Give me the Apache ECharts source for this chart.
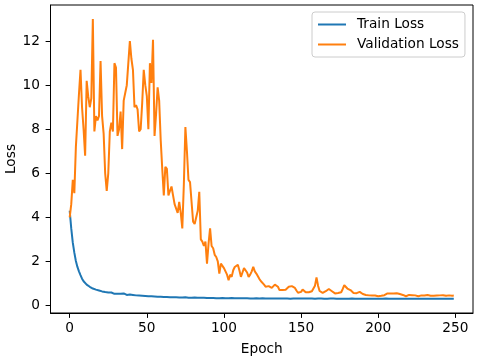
<!DOCTYPE html>
<html>
<head>
<meta charset="utf-8">
<script src="https://cdn.jsdelivr.net/npm/echarts@6.0.0/dist/echarts.min.js"></script>
<style>
  html, body { margin: 0; padding: 0; background: #fff; }
  #chart { width: 483px; height: 357px; }
</style>
</head>
<body>
<div id="chart"></div>
<script>
// loss per epoch
const trainLoss = [
  4.30, 3.50, 2.85, 2.40, 2.02, 1.75, 1.55, 1.38, 1.22, 1.10,
  1.02, 0.95, 0.90, 0.85, 0.80, 0.77, 0.74, 0.72, 0.70, 0.68,
  0.66, 0.64, 0.66, 0.61, 0.62, 0.59, 0.57, 0.59, 0.55, 0.53,
  0.57, 0.53, 0.51, 0.53, 0.50, 0.55, 0.50, 0.48, 0.47, 0.50,
  0.46, 0.48, 0.45, 0.46, 0.44, 0.45, 0.43, 0.44, 0.42, 0.43,
  0.42, 0.42, 0.41, 0.42, 0.40, 0.41, 0.40, 0.40, 0.39, 0.40,
  0.39, 0.39, 0.38, 0.39, 0.38, 0.38, 0.37, 0.38, 0.37, 0.37,
  0.37, 0.36, 0.37, 0.36, 0.36, 0.37, 0.36, 0.35, 0.36, 0.35,
  0.35, 0.36, 0.35, 0.35, 0.34, 0.35, 0.34, 0.35, 0.34, 0.34,
  0.34, 0.34, 0.33, 0.34, 0.34, 0.33, 0.34, 0.33, 0.33, 0.34,
  0.34, 0.33, 0.34, 0.33, 0.33, 0.34, 0.33, 0.33, 0.33, 0.33,
  0.34, 0.33, 0.33, 0.33, 0.32, 0.33, 0.33, 0.32, 0.33, 0.32,
  0.32, 0.33, 0.32, 0.32, 0.32, 0.33, 0.32, 0.32, 0.32, 0.32,
  0.32, 0.32, 0.33, 0.32, 0.32, 0.32, 0.32, 0.32, 0.32, 0.32,
  0.32, 0.32, 0.32, 0.31, 0.32, 0.32, 0.32, 0.32, 0.31, 0.32,
  0.32, 0.32, 0.33, 0.32, 0.32, 0.32, 0.31, 0.32, 0.32, 0.31,
  0.32, 0.32, 0.31, 0.32, 0.32, 0.31, 0.32, 0.31, 0.31, 0.32,
  0.31, 0.32, 0.31, 0.31, 0.32, 0.31, 0.31, 0.31, 0.32, 0.31,
  0.31, 0.31, 0.31, 0.32, 0.31, 0.31, 0.31, 0.31, 0.31, 0.31,
  0.31, 0.31, 0.32, 0.31, 0.31, 0.31, 0.31, 0.31, 0.31, 0.31,
  0.31, 0.31, 0.31, 0.31, 0.31, 0.32, 0.31, 0.31, 0.31, 0.31,
  0.31, 0.31, 0.31, 0.31, 0.31, 0.31, 0.31, 0.31, 0.31, 0.31,
  0.31, 0.31, 0.31, 0.31, 0.31, 0.31, 0.31, 0.31, 0.31, 0.31,
  0.31, 0.31, 0.31, 0.31, 0.31, 0.31, 0.31, 0.31, 0.31, 0.31,
  0.31, 0.31, 0.31, 0.31, 0.31, 0.31, 0.31, 0.31, 0.31, 0.31
];
const valLoss = [
  4.00, 4.60, 5.70, 5.10, 7.20, 8.40, 9.60, 10.70, 9.00, 8.00,
  6.80, 10.20, 9.50, 9.00, 9.40, 13.00, 7.90, 8.60, 8.40, 8.60,
  11.10, 8.60, 7.80, 6.00, 5.20, 6.00, 7.90, 8.30, 7.90, 11.00,
  10.80, 7.70, 8.00, 8.80, 7.10, 9.30, 9.30, 10.00, 11.00, 12.00,
  11.20, 10.70, 9.00, 9.10, 8.90, 7.90, 8.00, 9.20, 10.70, 10.00,
  9.50, 8.00, 11.00, 10.10, 12.06, 7.70, 8.70, 9.90, 9.30, 7.50,
  6.20, 5.00, 6.30, 6.20, 5.00, 5.20, 5.40, 5.00, 4.60, 4.60,
  4.20, 4.70, 4.20, 3.50, 5.50, 8.10, 7.00, 5.70, 5.60, 5.55,
  3.80, 3.70, 3.65, 4.30, 5.16, 3.00, 2.90, 2.70, 2.90, 1.90,
  2.80, 3.50, 2.70, 2.60, 2.30, 2.20, 2.00, 1.45, 1.90, 1.80,
  1.70, 1.65, 1.40, 1.15, 1.40, 1.30, 1.60, 1.75, 1.80, 1.85,
  1.60, 1.30, 1.50, 1.70, 1.68, 1.50, 1.30, 1.40, 1.55, 1.75,
  1.55, 1.45, 1.36, 1.20, 1.10, 1.07, 0.95, 0.85, 0.90, 0.88,
  0.85, 0.80, 0.85, 0.95, 1.03, 0.85, 0.70, 0.62, 0.70, 0.75,
  0.72, 0.78, 0.85, 0.80, 0.88, 0.92, 0.80, 0.68, 0.58, 0.55,
  0.62, 0.73, 0.68, 0.60, 0.58, 0.60, 0.60, 0.65, 0.70, 0.90,
  1.27, 0.90, 0.66, 0.60, 0.57, 0.60, 0.65, 0.70, 0.75, 0.77,
  0.65, 0.57, 0.55, 0.56, 0.57, 0.57, 0.60, 0.75, 0.92, 0.85,
  0.77, 0.75, 0.70, 0.62, 0.57, 0.55, 0.56, 0.60, 0.62, 0.58,
  0.52, 0.50, 0.48, 0.48, 0.46, 0.47, 0.45, 0.44, 0.45, 0.43,
  0.42, 0.42, 0.44, 0.46, 0.47, 0.50, 0.55, 0.57, 0.55, 0.54,
  0.55, 0.54, 0.56, 0.55, 0.52, 0.50, 0.48, 0.45, 0.42, 0.46,
  0.48, 0.45, 0.47, 0.50, 0.46, 0.55, 0.42, 0.44, 0.46, 0.47,
  0.45, 0.46, 0.48, 0.47, 0.44, 0.43, 0.44, 0.46, 0.45, 0.44,
  0.46, 0.45, 0.47, 0.46, 0.44, 0.45, 0.46, 0.45, 0.44, 0.45
];
const xTicks = [0, 50, 100, 150, 200, 250];
const yTicks = [0, 2, 4, 6, 8, 10, 12];

const font = "DejaVu Sans";
const fontSize = 13.7;
const chart = echarts.init(document.getElementById("chart"));

const toPairs = (arr) => arr.map((v, i) => [i, v]);

chart.setOption({
  animation: false,
  color: ["#1f77b4", "#ff7f0e"],
  grid: {
    left: 50.5,
    right: 10,
    top: 5,
    bottom: 44,
    outerBoundsMode: "none",
    containLabel: false,
    show: true,
    borderColor: "#000",
    borderWidth: 1,
    backgroundColor: "transparent",
  },
  legend: {
    orient: "vertical",
    left: 312,
    top: 12,
    icon: "rect",
    itemWidth: 28,
    itemHeight: 2,
    itemGap: 5,
    padding: [5, 6, 5, 6],
    borderColor: "#cccccc",
    borderWidth: 1,
    borderRadius: 3,
    backgroundColor: "rgba(255,255,255,0.8)",
    textStyle: {
      fontFamily: font,
      fontSize: fontSize,
      color: "#000",
      lineHeight: 15,
      padding: [0, 0, 0, 6],
    },
    data: ["Train Loss", "Validation Loss"],
  },
  xAxis: {
    type: "value",
    min: -12.45,
    max: 261.45,
    name: "Epoch",
    nameLocation: "middle",
    nameGap: 29,
    nameMoveOverlap: false,
    nameTextStyle: { fontFamily: font, fontSize: fontSize, color: "#000" },
    axisLine: { show: true, onZero: false, lineStyle: { color: "#000", width: 1 } },
    axisTick: { show: true, length: 4.9, customValues: xTicks, lineStyle: { color: "#000" } },
    axisLabel: { customValues: xTicks, margin: 8, fontFamily: font, fontSize: fontSize, color: "#000" },
    splitLine: { show: false },
  },
  yAxis: {
    type: "value",
    min: -0.34,
    max: 13.64,
    name: "Loss",
    nameLocation: "middle",
    nameGap: 32,
    nameMoveOverlap: false,
    nameTextStyle: { fontFamily: font, fontSize: fontSize, color: "#000" },
    axisLine: { show: true, onZero: false, lineStyle: { color: "#000", width: 1 } },
    axisTick: { show: true, length: 4.9, customValues: yTicks, lineStyle: { color: "#000" } },
    axisLabel: { customValues: yTicks, margin: 10.5, fontFamily: font, fontSize: fontSize, color: "#000" },
    splitLine: { show: false },
  },
  series: [
    {
      name: "Train Loss",
      type: "line",
      symbol: "none",
      lineStyle: { width: 2 },
      data: toPairs(trainLoss),
    },
    {
      name: "Validation Loss",
      type: "line",
      symbol: "none",
      lineStyle: { width: 2 },
      data: toPairs(valLoss),
    },
  ],
});
</script>
</body>
</html>
